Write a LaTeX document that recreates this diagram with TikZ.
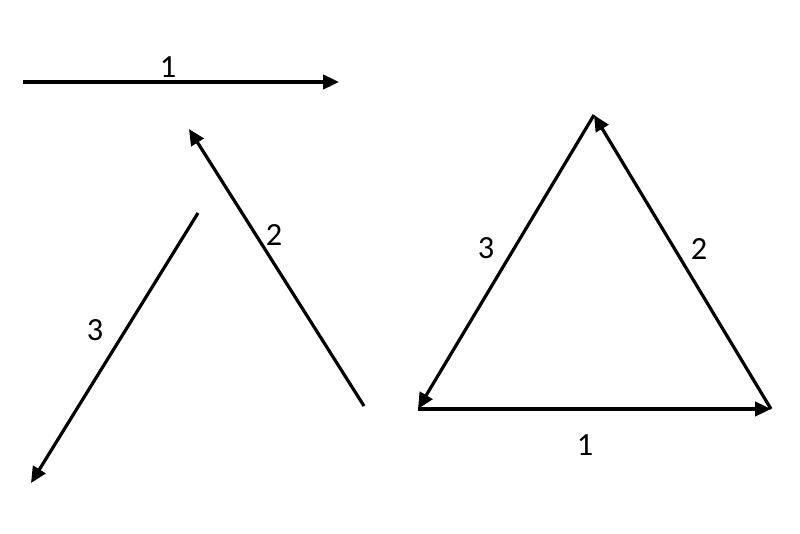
\documentclass[tikz,border=0pt]{standalone}
\usepackage{fontspec}
\setmainfont{Carlito}
\usetikzlibrary{arrows.meta}

\tikzset{
		vec/.style={black, line width=0.8mm, -{Triangle[length=4mm,width=3.6mm]}},
		lbl/.style={font=\fontsize{23}{26}\selectfont, inner sep=0pt}
	}

\begin{document}
\begin{tikzpicture}
\useasboundingbox (0,0) rectangle (20,13.325);

% separate vectors
\coordinate (s1) at (0.575,11.275);
\coordinate (e1) at (8.475,11.275);
\coordinate (s2) at (9.1,3.175);
\coordinate (e2) at (4.725,10.1);
\coordinate (s3) at (4.95,8.0);
\coordinate (e3) at (0.775,1.25);

\node (l1) at (4.2,11.65) [lbl] {1};
\node (l2) at (6.85,7.45) [lbl] {2};
\node (l3) at (2.375,5.075) [lbl] {3};

\draw [vec] (s1) -- (e1);
\draw [vec] (s2) -- (e2);
\draw [vec] (s3) -- (e3);

% triangle
\coordinate (A) at (10.45,3.1);
\coordinate (B) at (19.275,3.1);
\coordinate (C) at (14.85,10.45);

\node (t1) at (14.625,2.2) [lbl] {1};
\node (t2) at (17.475,7.1) [lbl] {2};
\node (t3) at (12.15,7.125) [lbl] {3};

\draw [vec] (A) -- (B);
\draw [vec] (B) -- (C);
\draw [vec] (C) -- (A);

\end{tikzpicture}
\end{document}
